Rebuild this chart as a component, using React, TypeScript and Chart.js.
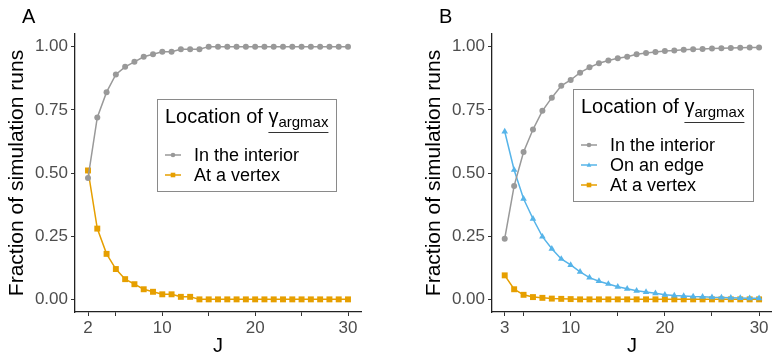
import React, { useEffect, useRef } from "react";
import { Chart, registerables } from "chart.js";

Chart.register(...registerables);

const FONT = "'Liberation Sans', Arial, Helvetica, sans-serif";

// ---- Data ----
const J_A = [2, 3, 4, 5, 6, 7, 8, 9, 10, 11, 12, 13, 14, 15, 16, 17, 18, 19, 20, 21, 22, 23, 24, 25, 26, 27, 28, 29, 30];
const interiorA = [0.48, 0.72, 0.82, 0.89, 0.92, 0.94, 0.96, 0.97, 0.98, 0.98, 0.99, 0.99, 0.99, 1, 1, 1, 1, 1, 1, 1, 1, 1, 1, 1, 1, 1, 1, 1, 1];
const vertexA = [0.51, 0.28, 0.18, 0.12, 0.08, 0.06, 0.04, 0.03, 0.02, 0.02, 0.01, 0.01, 0, 0, 0, 0, 0, 0, 0, 0, 0, 0, 0, 0, 0, 0, 0, 0, 0];

const J_B = [3, 4, 5, 6, 7, 8, 9, 10, 11, 12, 13, 14, 15, 16, 17, 18, 19, 20, 21, 22, 23, 24, 25, 26, 27, 28, 29, 30];
const interiorB = [0.24, 0.449, 0.583, 0.672, 0.746, 0.798, 0.845, 0.868, 0.897, 0.918, 0.934, 0.945, 0.954, 0.96, 0.97, 0.975, 0.979, 0.983, 0.985, 0.988, 0.99, 0.991, 0.993, 0.994, 0.995, 0.996, 0.997, 0.997];
const edgeB = [0.664, 0.512, 0.398, 0.319, 0.248, 0.2, 0.16, 0.136, 0.109, 0.086, 0.072, 0.061, 0.05, 0.042, 0.034, 0.029, 0.024, 0.018, 0.015, 0.013, 0.011, 0.01, 0.008, 0.007, 0.006, 0.005, 0.004, 0.004];
const vertexB = [0.095, 0.04, 0.018, 0.009, 0.006, 0.003, 0.002, 0.001, 0, 0, 0, 0, 0, 0, 0, 0, 0, 0, 0, 0, 0, 0, 0, 0, 0, 0, 0, 0];

const Y_TICKS = [0, 0.25, 0.5, 0.75, 1];
const X_TICKS_A = [2, 5, 10, 15, 20, 25, 30];
const X_LABELS_A = [2, 10, 20, 30];
const X_TICKS_B = [3, 5, 10, 15, 20, 25, 30];
const X_LABELS_B = [3, 10, 20, 30];

const LABEL_INTERIOR = "In the interior";
const LABEL_EDGE = "On an edge";
const LABEL_VERTEX = "At a vertex";
const LEGEND_TITLE = "Location of ";
const GAMMA = "γ";
const SUB = "argmax";

const GREY = "#999999";
const BLUE = "#56B4E9";
const ORANGE = "#E69F00";

function drawMarker(ctx: CanvasRenderingContext2D, style: string, x: number, y: number, r: number) {
  ctx.beginPath();
  if (style === "circle") {
    ctx.arc(x, y, r, 0, Math.PI * 2);
  } else if (style === "rect") {
    ctx.rect(x - r, y - r, 2 * r, 2 * r);
  } else {
    ctx.moveTo(x, y - r * 1.15);
    ctx.lineTo(x + r, y + r * 0.75);
    ctx.lineTo(x - r, y + r * 0.75);
    ctx.closePath();
  }
  ctx.fill();
}

const decorPlugin = {
  id: "decor",
  afterDraw(chart: any, _args: any, opts: any) {
    const ctx: CanvasRenderingContext2D = chart.ctx;
    ctx.save();
    // panel letter
    ctx.fillStyle = "#000";
    ctx.textAlign = "left";
    ctx.textBaseline = "alphabetic";
    ctx.font = `20px ${FONT}`;
    ctx.fillText(opts.letter, 22, 22.5);

    // legend box
    const { x, y, w, h } = opts;
    ctx.strokeStyle = "#8a8a8a";
    ctx.lineWidth = 1;
    ctx.strokeRect(Math.round(x) + 0.5, Math.round(y) + 0.5, w, h);

    let tx = x + 8;
    const ty = y + 24;
    ctx.font = `20px ${FONT}`;
    ctx.fillText(LEGEND_TITLE, tx, ty);
    tx += ctx.measureText(LEGEND_TITLE).width;
    const u0 = tx;
    ctx.fillText(GAMMA, tx, ty);
    tx += ctx.measureText(GAMMA).width;
    ctx.font = `15px ${FONT}`;
    ctx.fillText(SUB, tx, ty + 4);
    tx += ctx.measureText(SUB).width;
    ctx.beginPath();
    ctx.strokeStyle = "#333";
    ctx.lineWidth = 1;
    ctx.moveTo(u0, Math.round(ty + 9) + 0.5);
    ctx.lineTo(tx, Math.round(ty + 9) + 0.5);
    ctx.stroke();

    ctx.font = `18px ${FONT}`;
    ctx.textBaseline = "middle";
    chart.data.datasets.forEach((ds: any, i: number) => {
      const cy = y + 56 + i * 20;
      ctx.strokeStyle = ds.borderColor;
      ctx.lineWidth = 1.5;
      ctx.beginPath();
      ctx.moveTo(x + 8, cy);
      ctx.lineTo(x + 24, cy);
      ctx.stroke();
      ctx.fillStyle = ds.borderColor;
      drawMarker(ctx, ds.pointStyle, x + 16, cy, 2.3);
      ctx.fillStyle = "#000";
      ctx.fillText(ds.label, x + 37, cy + 1);
    });
    ctx.restore();
  },
};

function makeOptions(xmin: number, xmax: number, xTicks: number[], xLabels: number[], padRight: number, decor: any) {
  return {
    animation: false as const,
    responsive: false,
    maintainAspectRatio: false,
    layout: { padding: { top: 34, right: padRight, left: 0, bottom: 0 } },
    elements: { line: { tension: 0 } },
    scales: {
      x: {
        type: "linear" as const,
        min: xmin,
        max: xmax,
        afterBuildTicks: (s: any) => {
          s.ticks = xTicks.map((v) => ({ value: v }));
        },
        afterFit: (s: any) => {
          s.height = 48;
        },
        ticks: {
          autoSkip: false,
          maxRotation: 0,
          padding: 2,
          color: "#4d4d4d",
          font: { family: FONT, size: 17 },
          callback: (v: any) => (xLabels.includes(v) ? String(v) : ""),
        },
        grid: { drawOnChartArea: false, drawTicks: true, tickLength: 4, color: "#333", lineWidth: 1 },
        border: { display: true, color: "#222", width: 1.3 },
        title: { display: true, text: "J", color: "#000", font: { family: FONT, size: 20 }, padding: { top: 0, bottom: 2 } },
      },
      y: {
        type: "linear" as const,
        min: -0.05,
        max: 1.05,
        afterBuildTicks: (s: any) => {
          s.ticks = Y_TICKS.map((v) => ({ value: v }));
        },
        afterFit: (s: any) => {
          s.width = 75;
        },
        ticks: {
          padding: 3,
          color: "#4d4d4d",
          font: { family: FONT, size: 17 },
          callback: (v: any) => Number(v).toFixed(2),
        },
        grid: { drawOnChartArea: false, drawTicks: true, tickLength: 4, color: "#333", lineWidth: 1 },
        border: { display: true, color: "#222", width: 1.3 },
        title: {
          display: true,
          text: "Fraction of simulation runs",
          color: "#000",
          font: { family: FONT, size: 21 },
          padding: { top: 5, bottom: 0 },
        },
      },
    },
    plugins: {
      legend: { display: false },
      tooltip: { enabled: false },
      decor,
    },
  };
}

function ds(label: string, xs: number[], ys: number[], color: string, style: string, r: number) {
  return {
    label,
    data: xs.map((x, i) => ({ x, y: ys[i] })),
    borderColor: color,
    backgroundColor: color,
    pointBackgroundColor: color,
    pointBorderWidth: 0,
    pointStyle: style,
    pointRadius: r,
    borderWidth: 1.5,
    fill: false,
    clip: false as const,
  };
}

function Panel(props: { which: "A" | "B" }) {
  const ref = useRef<HTMLCanvasElement>(null);
  useEffect(() => {
    if (!ref.current) return;
    let cfg: any;
    if (props.which === "A") {
      cfg = {
        type: "line",
        data: {
          datasets: [
            ds(LABEL_INTERIOR, J_A, interiorA, GREY, "circle", 3),
            ds(LABEL_VERTEX, J_A, vertexA, ORANGE, "rect", 4.2),
          ],
        },
        options: makeOptions(0.6, 31.4, X_TICKS_A, X_LABELS_A, 29, { letter: "A", x: 157, y: 99, w: 179, h: 92 }),
        plugins: [decorPlugin],
      };
    } else {
      cfg = {
        type: "line",
        data: {
          datasets: [
            ds(LABEL_INTERIOR, J_B, interiorB, GREY, "circle", 3),
            ds(LABEL_EDGE, J_B, edgeB, BLUE, "triangle", 3.8),
            ds(LABEL_VERTEX, J_B, vertexB, ORANGE, "rect", 4.2),
          ],
        },
        options: makeOptions(1.65, 31.35, X_TICKS_B, X_LABELS_B, 0, { letter: "B", x: 156, y: 89, w: 180, h: 112 }),
        plugins: [decorPlugin],
      };
    }
    const chart = new Chart(ref.current, cfg);
    return () => chart.destroy();
  }, [props.which]);
  const style: React.CSSProperties =
    props.which === "A"
      ? { position: "absolute", left: 0, top: 0, width: 390, height: 360 }
      : { position: "absolute", left: 417, top: 0, width: 359, height: 360 };
  return <canvas ref={ref} width={style.width as number} height={360} style={style} />;
}

export default function App() {
  return (
    <div style={{ position: "fixed", left: 0, top: 0, width: 776, height: 360, background: "#fff", overflow: "hidden" }}>
      <Panel which="A" />
      <Panel which="B" />
    </div>
  );
}
